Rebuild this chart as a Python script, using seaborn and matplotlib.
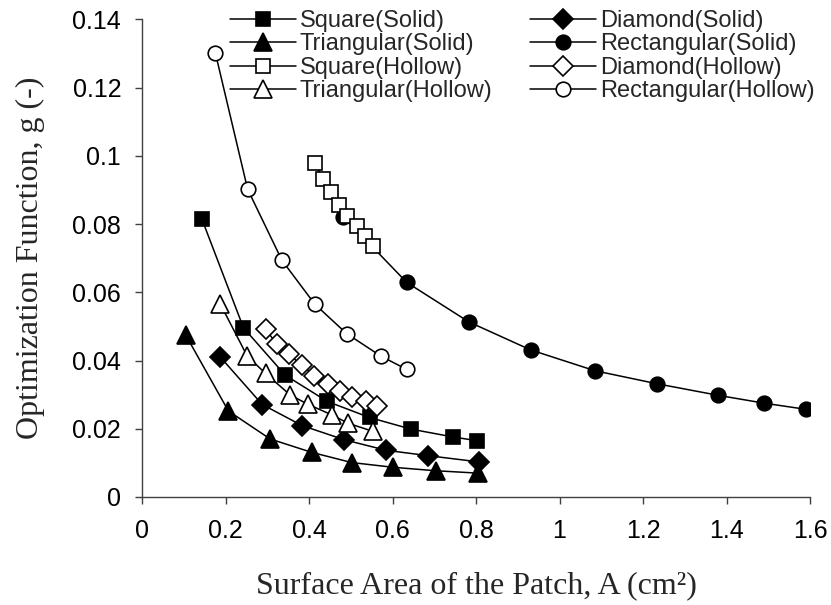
import matplotlib
matplotlib.use("Agg")
import matplotlib.pyplot as plt
import seaborn as sns

# Surface area of the patch A (cm^2) and optimization function g (-) per patch shape
square_solid_area = [0.143, 0.243, 0.343, 0.444, 0.545, 0.644, 0.745, 0.802]
square_solid_g = [0.0816, 0.0496, 0.0357, 0.0280, 0.0233, 0.0199, 0.0176, 0.0165]

diamond_solid_area = [0.187, 0.288, 0.384, 0.484, 0.584, 0.686, 0.806]
diamond_solid_g = [0.0411, 0.0271, 0.0209, 0.0168, 0.0137, 0.0121, 0.0103]

triangular_solid_area = [0.105, 0.207, 0.307, 0.406, 0.502, 0.602, 0.703, 0.804]
triangular_solid_g = [0.0474, 0.0252, 0.0170, 0.0131, 0.0101, 0.0087, 0.0077, 0.0070]

rectangular_solid_area = [0.482, 0.634, 0.783, 0.931, 1.085, 1.233, 1.380, 1.490, 1.590]
rectangular_solid_g = [0.0822, 0.0629, 0.0513, 0.0431, 0.0370, 0.0332, 0.0298, 0.0275, 0.0257]

square_hollow_area = [0.414, 0.434, 0.453, 0.472, 0.492, 0.514, 0.534, 0.553]
square_hollow_g = [0.0978, 0.0932, 0.0893, 0.0857, 0.0824, 0.0793, 0.0764, 0.0735]

diamond_hollow_area = [0.297, 0.323, 0.351, 0.384, 0.413, 0.445, 0.474, 0.504, 0.537, 0.564]
diamond_hollow_g = [0.0491, 0.0447, 0.0418, 0.0386, 0.0355, 0.0330, 0.0311, 0.0294, 0.0280, 0.0267]

triangular_hollow_area = [0.187, 0.252, 0.296, 0.355, 0.397, 0.454, 0.494, 0.554]
triangular_hollow_g = [0.0567, 0.0413, 0.0362, 0.0299, 0.0272, 0.0241, 0.0216, 0.0192]

rectangular_hollow_area = [0.176, 0.253, 0.335, 0.414, 0.490, 0.572, 0.634]
rectangular_hollow_g = [0.1300, 0.0902, 0.0694, 0.0565, 0.0479, 0.0413, 0.0374]

x_ticks = [0, 0.2, 0.4, 0.6, 0.8, 1.0, 1.2, 1.4, 1.6]
x_tick_labels = ["0", "0.2", "0.4", "0.6", "0.8", "1", "1.2", "1.4", "1.6"]
y_ticks = [0, 0.02, 0.04, 0.06, 0.08, 0.10, 0.12, 0.14]
y_tick_labels = ["0", "0.02", "0.04", "0.06", "0.08", "0.1", "0.12", "0.14"]

sns.set_theme(style="ticks")
plt.rcParams["font.family"] = ["Liberation Sans", "DejaVu Sans"]

fig = plt.figure(figsize=(8.31, 6.05), dpi=100)
W, H = 831, 605
ax = fig.add_axes([142 / W, 1 - 497 / H, (810 - 142) / W, (497 - 19.3) / H])

series = [
    ("Square(Solid)", square_solid_area, square_solid_g, "s", "black"),
    ("Diamond(Solid)", diamond_solid_area, diamond_solid_g, "D", "black"),
    ("Triangular(Solid)", triangular_solid_area, triangular_solid_g, "^", "black"),
    ("Rectangular(Solid)", rectangular_solid_area, rectangular_solid_g, "o", "black"),
    ("Square(Hollow)", square_hollow_area, square_hollow_g, "s", "white"),
    ("Diamond(Hollow)", diamond_hollow_area, diamond_hollow_g, "D", "white"),
    ("Triangular(Hollow)", triangular_hollow_area, triangular_hollow_g, "^", "white"),
    ("Rectangular(Hollow)", rectangular_hollow_area, rectangular_hollow_g, "o", "white"),
]
marker_sizes = {"s": 10.5, "D": 10.0, "^": 12.5, "o": 10.5}

for label, xs, ys, mk, face in series:
    sns.lineplot(
        x=xs, y=ys, ax=ax, estimator=None, sort=False,
        color="black", linewidth=1.1,
        marker=mk, markersize=marker_sizes[mk],
        markerfacecolor=face, markeredgecolor="black", markeredgewidth=1.2,
        label=label,
    )

if ax.get_legend() is not None:
    ax.get_legend().remove()

ax.set_xlim(0, 1.6)
ax.set_ylim(0, 0.14)
ax.set_xticks(x_ticks)
ax.set_xticklabels(x_tick_labels)
ax.set_yticks(y_ticks)
ax.set_yticklabels(y_tick_labels)
sns.despine(ax=ax)
for side in ("left", "bottom"):
    ax.spines[side].set_color("#404040")
    ax.spines[side].set_linewidth(1.0)
ax.tick_params(axis="both", direction="out", length=5, width=1.0,
               color="#404040", labelsize=18, labelcolor="black")
ax.tick_params(axis="y", pad=10)
ax.tick_params(axis="x", pad=11)

serif = ["Liberation Serif", "DejaVu Serif"]
ax.set_xlabel("Surface Area of the Patch, A (cm\u00b2)", fontsize=23,
              family=serif, labelpad=20)
ax.set_ylabel("Optimization Function, g (-)", fontsize=23,
              family=serif, labelpad=20)

handles, labels = ax.get_legend_handles_labels()
lookup = dict(zip(labels, handles))
col1 = ["Square(Solid)", "Triangular(Solid)", "Square(Hollow)", "Triangular(Hollow)"]
col2 = ["Diamond(Solid)", "Rectangular(Solid)", "Diamond(Hollow)", "Rectangular(Hollow)"]
legend_kw = dict(loc="upper left", bbox_transform=fig.transFigure, frameon=False,
                 fontsize=17, handlelength=2.8, handletextpad=0.15,
                 labelspacing=0.06, borderpad=0, borderaxespad=0)
leg1 = ax.legend([lookup[l] for l in col1], col1,
                 bbox_to_anchor=(230 / W, 1 - 10 / H), **legend_kw)
ax.add_artist(leg1)
ax.legend([lookup[l] for l in col2], col2,
          bbox_to_anchor=(530 / W, 1 - 10 / H), **legend_kw)

fig.savefig("out.png", dpi=100)
